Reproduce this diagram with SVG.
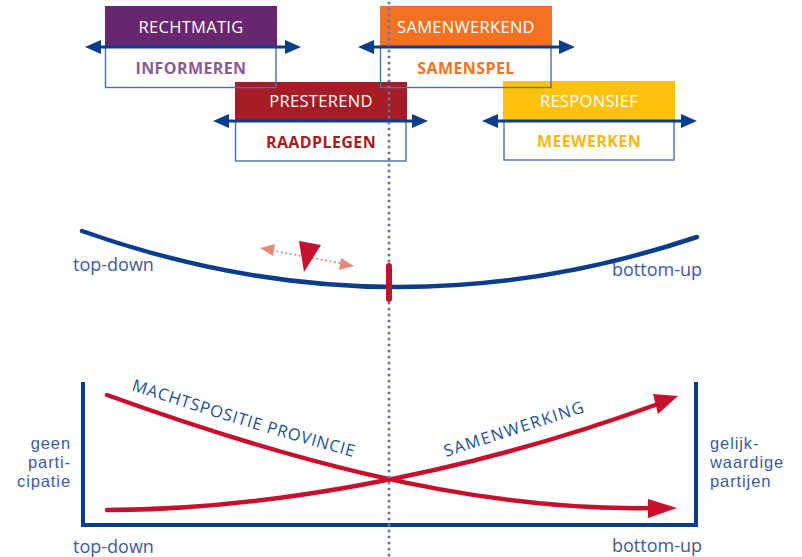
<svg xmlns="http://www.w3.org/2000/svg" width="802" height="557" viewBox="0 0 802 557">
<style>
.hd{font-family:"Open Sans","Noto Sans",sans-serif;font-size:16.5px;letter-spacing:0.3px;fill:#ffffff;text-anchor:middle}
.sub{font-family:"Open Sans","Noto Sans",sans-serif;font-size:16px;letter-spacing:0.4px;font-weight:bold;text-anchor:middle}
.box{fill:none;stroke:#4a6fb0;stroke-width:1.4}
.arr{stroke:#0b3d8c;stroke-width:3;fill:none}
.ah{fill:#0b3d8c}
.lbl{font-family:"Open Sans","Noto Sans",sans-serif;font-size:18px;fill:#3d5aa0}
.side{font-family:"Liberation Sans",Arial,sans-serif;font-size:16.5px;letter-spacing:0.9px;fill:#3d5aa0}
.curve{font-family:"Open Sans","Noto Sans",sans-serif;font-size:16.5px;fill:#1d4f91}
.axis{stroke:#0b3d8c;stroke-width:4;fill:none}
.red{stroke:#c8102e;stroke-width:4.5;fill:none;stroke-linecap:round}
</style>
<rect width="802" height="557" fill="#ffffff"/>

<g id="presterend">
<rect x="235" y="82" width="172" height="38" fill="#a51c24"/>
<rect class="box" x="235.5" y="121" width="170.5" height="40"/>
<text class="hd" x="321" y="107">PRESTEREND</text>
<text class="sub" x="321" y="148" fill="#a51c24">RAADPLEGEN</text>
<line class="arr" x1="226" y1="121" x2="415" y2="121"/>
<polygon class="ah" points="213,121 229,114 229,128"/>
<polygon class="ah" points="428,121 412,114 412,128"/>
</g>

<g id="responsief">
<rect x="503" y="81" width="172" height="39" fill="#fdc20e"/>
<rect class="box" x="504" y="121" width="170" height="39"/>
<text class="hd" x="589" y="107">RESPONSIEF</text>
<text class="sub" x="589" y="147" fill="#f7b814">MEEWERKEN</text>
<line class="arr" x1="495" y1="121" x2="684" y2="121"/>
<polygon class="ah" points="482,121 498,114 498,128"/>
<polygon class="ah" points="697,121 681,114 681,128"/>
</g>

<g id="rechtmatig">
<rect x="105" y="6" width="172" height="40" fill="#68266f"/>
<rect class="box" x="105.5" y="46.5" width="170.5" height="41"/>
<text class="hd" x="191" y="33">RECHTMATIG</text>
<text class="sub" x="191" y="74" fill="#8b5a96">INFORMEREN</text>
<line class="arr" x1="98" y1="47" x2="288" y2="47"/>
<polygon class="ah" points="85,47 101,40 101,54"/>
<polygon class="ah" points="301,47 285,40 285,54"/>
</g>

<g id="samenwerkend">
<rect x="380" y="6" width="172" height="40" fill="#f47124"/>
<rect class="box" x="380.5" y="46.5" width="170.5" height="41"/>
<text class="hd" x="466" y="33">SAMENWERKEND</text>
<text class="sub" x="466" y="74" fill="#f47124">SAMENSPEL</text>
<line class="arr" x1="371" y1="47" x2="562" y2="47"/>
<polygon class="ah" points="358,47 374,40 374,54"/>
<polygon class="ah" points="575,47 559,40 559,54"/>
</g>

<g id="spectrum">
<path d="M82,231 Q390,340 697,237" stroke="#0b3d8c" stroke-width="4.5" fill="none" stroke-linecap="round"/>
<text class="lbl" x="73" y="271">top-down</text>
<text class="lbl" x="612" y="276">bottom-up</text>
</g>

<g id="pointer">
<line x1="272" y1="250.5" x2="342" y2="263.5" stroke="#e38b7a" stroke-width="1.8" stroke-dasharray="2 2.5"/>
<polygon points="260,248 275,244 273,256" fill="#e38b7a"/>
<polygon points="354,266 339,270 341,258" fill="#e38b7a"/>
<polygon points="299,241 321,245 304,272" fill="#c41230"/>
</g>

<g id="chart">
<path class="axis" d="M83,382 V525 H696 V382"/>
<text class="side" x="71" y="449" text-anchor="end">geen</text>
<text class="side" x="71" y="468" text-anchor="end">parti-</text>
<text class="side" x="71" y="487" text-anchor="end">cipatie</text>
<text class="side" x="710" y="449">gelijk-</text>
<text class="side" x="710" y="468">waardige</text>
<text class="side" x="710" y="487">partijen</text>
<text class="lbl" x="73" y="553">top-down</text>
<text class="lbl" x="612" y="552">bottom-up</text>
</g>

<defs>
<path id="p1" d="M131,390 Q245,428 372,462"/>
<path id="p2" d="M446,457 Q520,433 594,409"/>
</defs>

<g id="connectors">
<path class="red" d="M107,395 C260,450 460,512 652,508"/>
<polygon points="677,508 648,499 648,518" fill="#c8102e"/>
<path class="red" d="M107,510 C250,510 450,480 658,404"/>
<polygon points="678,396 653,394 658,414" fill="#c8102e"/>
<text class="curve"><textPath href="#p1" textLength="232" lengthAdjust="spacing">MACHTSPOSITIE PROVINCIE</textPath></text>
<text class="curve"><textPath href="#p2" textLength="146" lengthAdjust="spacing">SAMENWERKING</textPath></text>
</g>

<g id="divider">
<line x1="389" y1="3" x2="389" y2="556" stroke="#6a73b0" stroke-width="3" stroke-linecap="round" stroke-dasharray="0 6"/>
<line x1="389" y1="266" x2="389" y2="299" stroke="#c8102e" stroke-width="6" stroke-linecap="round"/>
</g>
</svg>
